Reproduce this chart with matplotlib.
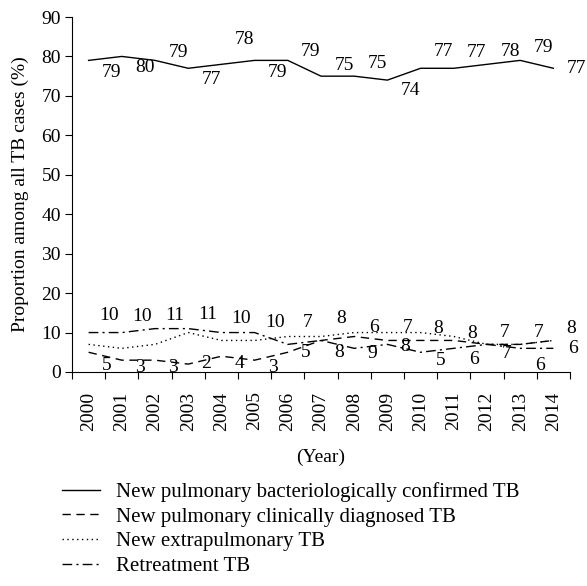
import matplotlib
matplotlib.use("Agg")
import matplotlib.pyplot as plt

plt.rcParams['font.family'] = ['Liberation Serif', 'DejaVu Serif']
plt.rcParams['font.size'] = 14

years = ['2000', '2001', '2002', '2003', '2004', '2005', '2006', '2007',
         '2008', '2009', '2010', '2011', '2012', '2013', '2014']

confirmed = [79, 80, 79, 77, 78, 79, 79, 75, 75, 74, 77, 77, 78, 79, 77]
clinical = [5, 3, 3, 2, 4, 3, 5, 8, 9, 8, 8, 8, 7, 7, 8]
extrapulmonary = [7, 6, 7, 10, 8, 8, 9, 9, 10, 10, 10, 9, 7, 7, 8]
retreatment = [10, 10, 11, 11, 10, 10, 7, 8, 6, 7, 5, 6, 7, 6, 6]

series_names = ['New pulmonary bacteriologically confirmed TB',
                'New pulmonary clinically diagnosed TB',
                'New extrapulmonary TB',
                'Retreatment TB']

# label placement (pixels downward from the point) -- layout only
conf_lbl_dy = [12, 11, -8, 11, -25, 12, -9, -11, -13, 10, -17, -16, -13, -13, 0]
clin_lbl_dy = [13, 7, 7, -1, 7, 7, 0, 12, 17, 6, -12, -7, -12, -12, -12]
retr_lbl_dy = [-17, -16, -13, -14, -14, -10, -22, -22, -21, -17, 8, 11, 9, 17, 0]

styles = [dict(ls='-'),
          dict(ls=(0, (6, 4))),
          dict(ls=(0, (1, 2.5))),
          dict(ls=(0, (7, 3, 1.5, 3)))]

fig = plt.figure(figsize=(5.87, 5.86), dpi=100)
ax = fig.add_axes([72 / 587, 1 - 372 / 586, (570 - 72) / 587, (372 - 17) / 586])

x = list(range(len(years)))
handles = []
for vals, st in zip([confirmed, clinical, extrapulmonary, retreatment], styles):
    h, = ax.plot(x, vals, color='black', lw=1.0, **st)
    handles.append(h)


def add_labels(vals, dys, dx):
    for i, (v, dy) in enumerate(zip(vals, dys)):
        ax.annotate(str(v), (i, v), xytext=(dx, -dy), textcoords='offset pixels',
                    ha='center', va='center', fontsize=14, annotation_clip=False)


add_labels(confirmed, conf_lbl_dy, 23)
add_labels(clinical, clin_lbl_dy, 18)
add_labels(retreatment, retr_lbl_dy, 20)

ax.set_xlim(-0.5, len(years) - 0.5)
ax.set_ylim(0, 90)
ax.set_yticks(range(0, 91, 10))
ax.set_xticks([i - 0.5 for i in range(len(years) + 1)])
ax.set_xticklabels([])
ax.set_xticks(x, minor=True)
ax.set_xticklabels(years, minor=True, rotation=90)
ax.tick_params(axis='x', which='minor', length=0, pad=14)
ax.tick_params(axis='both', which='major', direction='out', length=5, width=0.8)
ax.tick_params(axis='y', pad=3)
ax.spines['top'].set_visible(False)
ax.spines['right'].set_visible(False)

ax.set_ylabel('Proportion among all TB cases (%)', labelpad=9)
ax.set_xlabel('(Year)', labelpad=13)

fig.legend(handles, series_names, loc='upper left', bbox_to_anchor=(62 / 587, 1 - 482 / 586),
           frameon=False, borderpad=0, borderaxespad=0, handlelength=1.8,
           handletextpad=0.8, labelspacing=0.25, fontsize=15)

fig.savefig('out.png', dpi=100)
